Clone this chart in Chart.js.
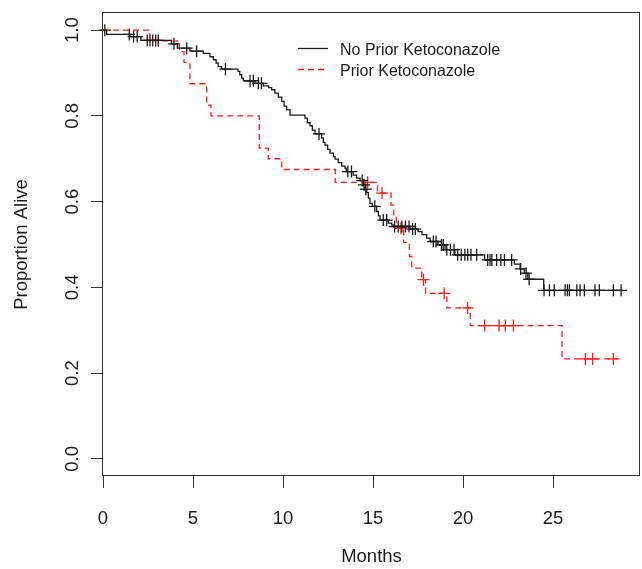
<!DOCTYPE html>
<html>
<head>
<meta charset="utf-8">
<script src="https://cdn.jsdelivr.net/npm/chart.js@4.4.1/dist/chart.umd.min.js"></script>
<style>
  html, body { margin: 0; padding: 0; background: #fff; }
  #wrap { width: 642px; height: 569px; }
</style>
</head>
<body>
<div id="wrap"><canvas id="km" width="642" height="569"></canvas></div>
<script>
// Kaplan-Meier estimates (months, proportion alive after each step)
const noPriorTimes = [0, 0.2, 1.5, 2.1, 3.8, 4.13, 4.83, 5.57, 5.94, 6.13, 6.28, 6.4, 6.59, 7.5, 7.6, 7.7, 7.8,
  8.45, 8.9, 9.2, 9.37, 9.55, 9.74, 9.93, 10.06, 10.2, 10.39, 11.22, 11.35, 11.5, 11.63, 11.78,
  12.15, 12.24, 12.33, 12.48, 12.61, 12.8, 12.89, 13.07, 13.26, 13.44, 13.52, 13.9, 14.09, 14.28,
  14.46, 14.56, 14.65, 14.74, 14.83, 14.96, 15.2, 15.3, 15.39, 15.85, 16.04, 16.12, 17.06, 17.5,
  17.72, 17.98, 18.17, 18.6, 19.0, 19.55, 21.2, 22.85, 23.17, 23.4, 23.6, 24.48, 28.8];
const noPriorSurv = [1.0, 0.99, 0.985, 0.976, 0.968, 0.958, 0.951, 0.946, 0.938, 0.931, 0.923, 0.915, 0.909, 0.904, 0.896, 0.888, 0.882,
  0.876, 0.87, 0.866, 0.861, 0.853, 0.844, 0.834, 0.823, 0.814, 0.802, 0.795, 0.784, 0.777, 0.767, 0.758,
  0.748, 0.738, 0.732, 0.722, 0.713, 0.705, 0.699, 0.691, 0.683, 0.678, 0.67, 0.662, 0.655, 0.649,
  0.639, 0.629, 0.621, 0.608, 0.596, 0.589, 0.577, 0.567, 0.557, 0.55, 0.546, 0.542, 0.536, 0.53,
  0.523, 0.515, 0.507, 0.499, 0.488, 0.476, 0.464, 0.454, 0.443, 0.433, 0.419, 0.393, 0.393];
const noPriorCensored = [0.1, 1.46, 1.7, 1.9, 2.46, 2.61, 2.76, 2.93, 3.07, 3.94, 4.65, 5.2, 6.8, 8.17, 8.35, 8.63, 8.8,
  12.0, 13.6, 13.8, 14.4, 14.5, 14.6, 15.1, 15.57, 15.76, 16.2, 16.4, 16.6, 16.8, 17.0, 17.2, 17.35,
  18.35, 18.5, 18.8, 18.9, 19.1, 19.3, 19.5, 19.7, 19.9, 20.1, 20.26, 20.44, 20.76, 21.37, 21.5, 21.6,
  21.87, 22.1, 22.3, 22.7, 23.2, 23.5, 23.67, 24.5, 24.8, 25.07, 25.67, 25.8, 25.91, 26.32, 26.5,
  26.74, 27.33, 27.57, 28.35, 28.78];

const priorTimes = [0, 2.6, 4.24, 4.5, 4.83, 5.76, 6.0, 8.68, 9.18, 9.93, 12.9, 15.25, 16.0, 16.15, 16.3,
  16.7, 17.02, 17.15, 17.7, 17.92, 19.1, 20.4, 25.5, 28.6];
const priorSurv = [1.0, 0.975, 0.95, 0.925, 0.875, 0.825, 0.8, 0.725, 0.7, 0.675, 0.645, 0.62, 0.592, 0.565, 0.538,
  0.505, 0.472, 0.445, 0.418, 0.386, 0.352, 0.311, 0.233, 0.233];
const priorCensored = [14.7, 15.5, 16.55, 17.8, 18.95, 20.25, 21.2, 22.0, 22.35, 22.8, 26.8, 27.2, 28.35];

const xTicks = [0, 5, 10, 15, 20, 25];
const yTicks = [0, 0.2, 0.4, 0.6, 0.8, 1.0];
const yTickLabels = ['0.0', '0.2', '0.4', '0.6', '0.8', '1.0'];

const inkColor = '#1c1c1c';
const redColor = '#ff1a1a';
const axisFont = { family: 'Liberation Sans, Arial, sans-serif', size: 18.5 };

function curvePoints(times, surv) {
  return times.map((t, i) => ({ x: t, y: surv[i] }));
}

// survival level of the curve at time t (used to sit the censoring marks on the curve)
function levelAt(times, surv, t) {
  let s = surv[0];
  for (let i = 0; i < times.length; i++) {
    if (times[i] <= t) s = surv[i];
  }
  return s;
}

function censorPoints(times, surv, cens) {
  return cens.map(t => ({ x: t, y: levelAt(times, surv, t) }));
}

// R-style box, rotated y tick labels and inset legend
const rStylePlugin = {
  id: 'rStyle',
  afterDraw(chart) {
    const { ctx, chartArea: a, scales } = chart;
    ctx.save();
    ctx.strokeStyle = '#333';
    ctx.lineWidth = 1;
    ctx.strokeRect(Math.round(a.left) - 0.5, Math.round(a.top) - 0.5, Math.round(a.right - a.left), Math.round(a.bottom - a.top));

    ctx.fillStyle = inkColor;
    ctx.font = axisFont.size + 'px ' + axisFont.family;
    ctx.textAlign = 'center';
    ctx.textBaseline = 'middle';
    yTicks.forEach((v, i) => {
      const y = scales.y.getPixelForValue(v);
      ctx.save();
      ctx.translate(73, y);
      ctx.rotate(-Math.PI / 2);
      ctx.fillText(yTickLabels[i], 0, 0);
      ctx.restore();
    });

    // legend
    ctx.font = '16px Liberation Sans, Arial, sans-serif';
    ctx.textAlign = 'left';
    [0, 1].forEach((di, row) => {
      const ds = chart.data.datasets[di];
      const y = 48.5 + row * 21;
      ctx.beginPath();
      ctx.strokeStyle = ds.borderColor;
      ctx.lineWidth = ds.borderWidth;
      ctx.setLineDash(ds.borderDash || []);
      ctx.moveTo(298, y);
      ctx.lineTo(328, y);
      ctx.stroke();
      ctx.setLineDash([]);
      ctx.fillStyle = inkColor;
      ctx.fillText(ds.label, 340, y + 2);
    });
    ctx.restore();
  }
};

new Chart(document.getElementById('km'), {
  type: 'scatter',
  data: {
    datasets: [
      {
        label: 'No Prior Ketoconazole',
        data: curvePoints(noPriorTimes, noPriorSurv),
        showLine: true,
        stepped: true,
        borderColor: inkColor,
        borderWidth: 1.3,
        pointRadius: 0
      },
      {
        label: 'Prior Ketoconazole',
        data: curvePoints(priorTimes, priorSurv),
        showLine: true,
        stepped: true,
        borderColor: redColor,
        borderWidth: 1.3,
        borderDash: [6, 4],
        pointRadius: 0
      },
      {
        label: 'censored no prior',
        data: censorPoints(noPriorTimes, noPriorSurv, noPriorCensored),
        pointStyle: 'cross',
        pointRadius: 6,
        borderColor: inkColor,
        borderWidth: 1.3,
        clip: false
      },
      {
        label: 'censored prior',
        data: censorPoints(priorTimes, priorSurv, priorCensored),
        pointStyle: 'cross',
        pointRadius: 6,
        borderColor: redColor,
        borderWidth: 1.3,
        clip: false
      }
    ]
  },
  options: {
    responsive: false,
    animation: false,
    devicePixelRatio: 1,
    layout: { autoPadding: false, padding: { top: 13, right: 2, left: 0, bottom: 0 } },
    plugins: {
      legend: { display: false },
      tooltip: { enabled: false }
    },
    scales: {
      x: {
        type: 'linear',
        min: 0,
        max: 29.83,
        afterFit: s => { s.height = 93; },
        afterBuildTicks: s => { s.ticks = xTicks.map(v => ({ value: v })); },
        ticks: { font: axisFont, color: inkColor, padding: 20, maxRotation: 0, autoSkip: false },
        grid: { drawOnChartArea: false, drawTicks: true, tickLength: 12, color: '#333' },
        border: { display: false },
        title: { display: true, text: 'Months', font: axisFont, color: inkColor, padding: { top: 0, bottom: 1 } }
      },
      y: {
        min: -0.04,
        max: 1.04,
        afterFit: s => { s.width = 103; },
        afterBuildTicks: s => { s.ticks = yTicks.map(v => ({ value: v })); },
        ticks: { display: false },
        grid: { drawOnChartArea: false, drawTicks: true, tickLength: 12, color: '#333' },
        border: { display: false },
        title: { display: true, text: 'Proportion Alive', font: axisFont, color: inkColor, padding: { top: 11, bottom: 0 } }
      }
    }
  },
  plugins: [rStylePlugin]
});
</script>
</body>
</html>
